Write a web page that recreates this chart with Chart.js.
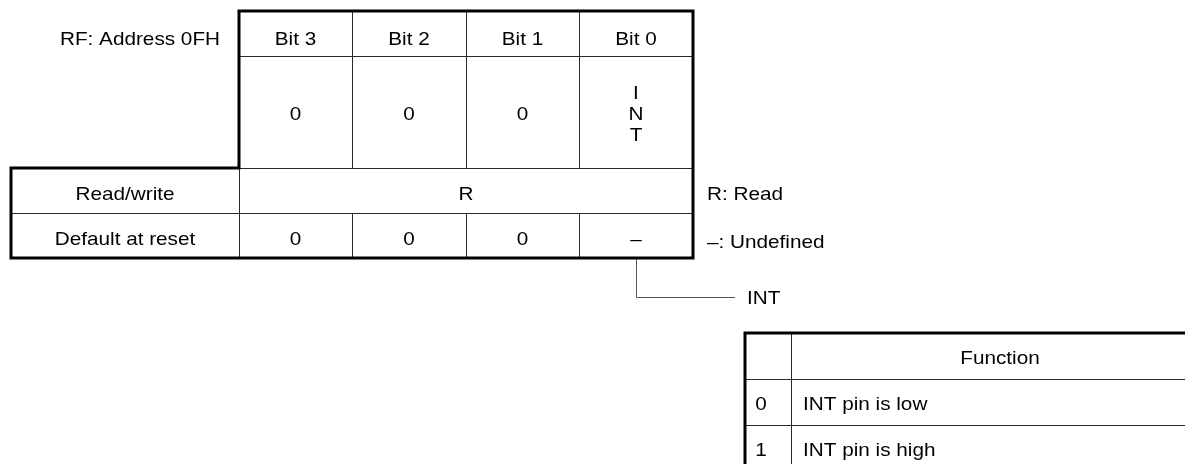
<!DOCTYPE html>
<html>
<head>
<meta charset="utf-8">
<script src="https://cdn.jsdelivr.net/npm/chart.js@4.4.1/dist/chart.umd.min.js"></script>
<style>
  html, body { margin: 0; padding: 0; background: #fff; }
  #wrap { width: 1185px; height: 464px; }
</style>
</head>
<body>
<div id="wrap"><canvas id="regChart" width="1185" height="464"></canvas></div>
<script>
// register contents
const registerName = 'RF: Address 0FH';
const bitHeaders = ['Bit 3', 'Bit 2', 'Bit 1', 'Bit 0'];
const bitNames = [['0'], ['0'], ['0'], ['I', 'N', 'T']];
const rowLabels = ['Read/write', 'Default at reset'];
const accessValue = 'R';
const resetValues = ['0', '0', '0', '–'];
const legendNotes = ['R: Read', '–: Undefined'];
const fieldName = 'INT';
const functionHeader = 'Function';
const functionCodes = ['0', '1'];
const functionTexts = ['INT pin is low', 'INT pin is high'];

// layout, in the same units as the (hidden) x / y scales
const colEdges = [239, 352, 466, 579, 693];
const leftEdge = 11;
const rowEdges = [11, 56, 168, 213, 258];
const fnCols = [745, 791, 1209];
const fnRows = [333, 379, 425, 471];
const leaderY = 297;
const leaderEndX = 735;

const FONT = '18.5px "Liberation Sans", Arial, sans-serif';
const STRETCH = 1.12;

function txt(ctx, s, x, y, align) {
    ctx.save();
    ctx.translate(x, y);
    ctx.scale(STRETCH, 1);
    ctx.textAlign = align || 'center';
    ctx.fillText(s, 0, 0);
    ctx.restore();
}

function seg(ctx, x1, y1, x2, y2) {
    ctx.beginPath();
    ctx.moveTo(x1, y1);
    ctx.lineTo(x2, y2);
    ctx.stroke();
}

const registerPlugin = {
    id: 'registerDiagram',
    afterDatasetsDraw(chart) {
        const ctx = chart.ctx;
        const X = v => chart.scales.x.getPixelForValue(v);
        const Y = v => chart.scales.y.getPixelForValue(v);
        const cx = i => (X(colEdges[i]) + X(colEdges[i + 1])) / 2;
        const cy = i => (Y(rowEdges[i]) + Y(rowEdges[i + 1])) / 2;

        ctx.save();
        // thin inner lines
        ctx.strokeStyle = '#2a2a2a';
        ctx.lineWidth = 1;
        for (let i = 1; i < colEdges.length - 1; i++) {
            seg(ctx, X(colEdges[i]) + 0.5, Y(rowEdges[0]), X(colEdges[i]) + 0.5, Y(rowEdges[2]));
            seg(ctx, X(colEdges[i]) + 0.5, Y(rowEdges[3]), X(colEdges[i]) + 0.5, Y(rowEdges[4]));
        }
        seg(ctx, X(colEdges[0]), Y(rowEdges[1]) + 0.5, X(colEdges[4]), Y(rowEdges[1]) + 0.5);
        seg(ctx, X(colEdges[0]), Y(rowEdges[2]) + 0.5, X(colEdges[4]), Y(rowEdges[2]) + 0.5);
        seg(ctx, X(leftEdge), Y(rowEdges[3]) + 0.5, X(colEdges[4]), Y(rowEdges[3]) + 0.5);
        seg(ctx, X(colEdges[0]) + 0.5, Y(rowEdges[2]), X(colEdges[0]) + 0.5, Y(rowEdges[4]));

        // function table inner lines
        seg(ctx, X(fnCols[1]) + 0.5, Y(fnRows[0]), X(fnCols[1]) + 0.5, Y(fnRows[3]));
        seg(ctx, X(fnCols[0]), Y(fnRows[1]) + 0.5, X(fnCols[2]), Y(fnRows[1]) + 0.5);
        seg(ctx, X(fnCols[0]), Y(fnRows[2]) + 0.5, X(fnCols[2]), Y(fnRows[2]) + 0.5);

        // leader from bit 0 to field name
        ctx.strokeStyle = '#555';
        ctx.beginPath();
        ctx.moveTo(cx(3) + 0.5, Y(rowEdges[4]));
        ctx.lineTo(cx(3) + 0.5, Y(leaderY) + 0.5);
        ctx.lineTo(X(leaderEndX), Y(leaderY) + 0.5);
        ctx.stroke();

        // thick outlines
        ctx.strokeStyle = '#000';
        ctx.lineWidth = 3;
        ctx.lineJoin = 'miter';
        ctx.beginPath();
        ctx.moveTo(X(colEdges[0]), Y(rowEdges[0]));
        ctx.lineTo(X(colEdges[4]), Y(rowEdges[0]));
        ctx.lineTo(X(colEdges[4]), Y(rowEdges[4]));
        ctx.lineTo(X(leftEdge), Y(rowEdges[4]));
        ctx.lineTo(X(leftEdge), Y(rowEdges[2]));
        ctx.lineTo(X(colEdges[0]), Y(rowEdges[2]));
        ctx.closePath();
        ctx.stroke();
        ctx.beginPath();
        ctx.moveTo(X(fnCols[2]), Y(fnRows[0]));
        ctx.lineTo(X(fnCols[0]), Y(fnRows[0]));
        ctx.lineTo(X(fnCols[0]), Y(fnRows[3]));
        ctx.stroke();

        // texts
        ctx.fillStyle = '#000';
        ctx.font = FONT;
        ctx.textBaseline = 'alphabetic';
        txt(ctx, registerName, X(colEdges[0]) - 19, cy(0) + 11, 'right');
        bitHeaders.forEach((h, i) => txt(ctx, h, cx(i), cy(0) + 11));
        bitNames.forEach((lines, i) => {
            const step = 21;
            const top = cy(1) + 8 - (lines.length - 1) * step / 2;
            lines.forEach((s, k) => txt(ctx, s, cx(i), top + k * step));
        });
        txt(ctx, rowLabels[0], (X(leftEdge) + X(colEdges[0])) / 2, cy(2) + 9);
        txt(ctx, rowLabels[1], (X(leftEdge) + X(colEdges[0])) / 2, cy(3) + 9);
        txt(ctx, accessValue, (X(colEdges[0]) + X(colEdges[4])) / 2, cy(2) + 9);
        resetValues.forEach((v, i) => txt(ctx, v, cx(i), cy(3) + 9));
        legendNotes.forEach((n, i) => txt(ctx, n, X(colEdges[4]) + 14, cy(2 + i) + 9 + i * 3, 'left'));
        txt(ctx, fieldName, X(leaderEndX) + 12, Y(leaderY) + 7, 'left');

        const fy = i => (Y(fnRows[i]) + Y(fnRows[i + 1])) / 2;
        txt(ctx, functionHeader, (X(fnCols[1]) + X(fnCols[2])) / 2, fy(0) + 8);
        functionCodes.forEach((c, i) => {
            txt(ctx, c, (X(fnCols[0]) + X(fnCols[1])) / 2 - 7, fy(i + 1) + 8);
            txt(ctx, functionTexts[i], X(fnCols[1]) + 12, fy(i + 1) + 8, 'left');
        });
        ctx.restore();
    }
};

new Chart(document.getElementById('regChart'), {
    type: 'scatter',
    data: { datasets: [{ data: [], pointRadius: 0 }] },
    options: {
        responsive: false,
        animation: false,
        layout: { padding: 0 },
        plugins: { legend: { display: false }, tooltip: { enabled: false } },
        scales: {
            x: { type: 'linear', min: 0, max: 1185, display: false },
            y: { type: 'linear', min: 0, max: 464, reverse: true, display: false }
        }
    },
    plugins: [registerPlugin]
});
</script>
</body>
</html>
